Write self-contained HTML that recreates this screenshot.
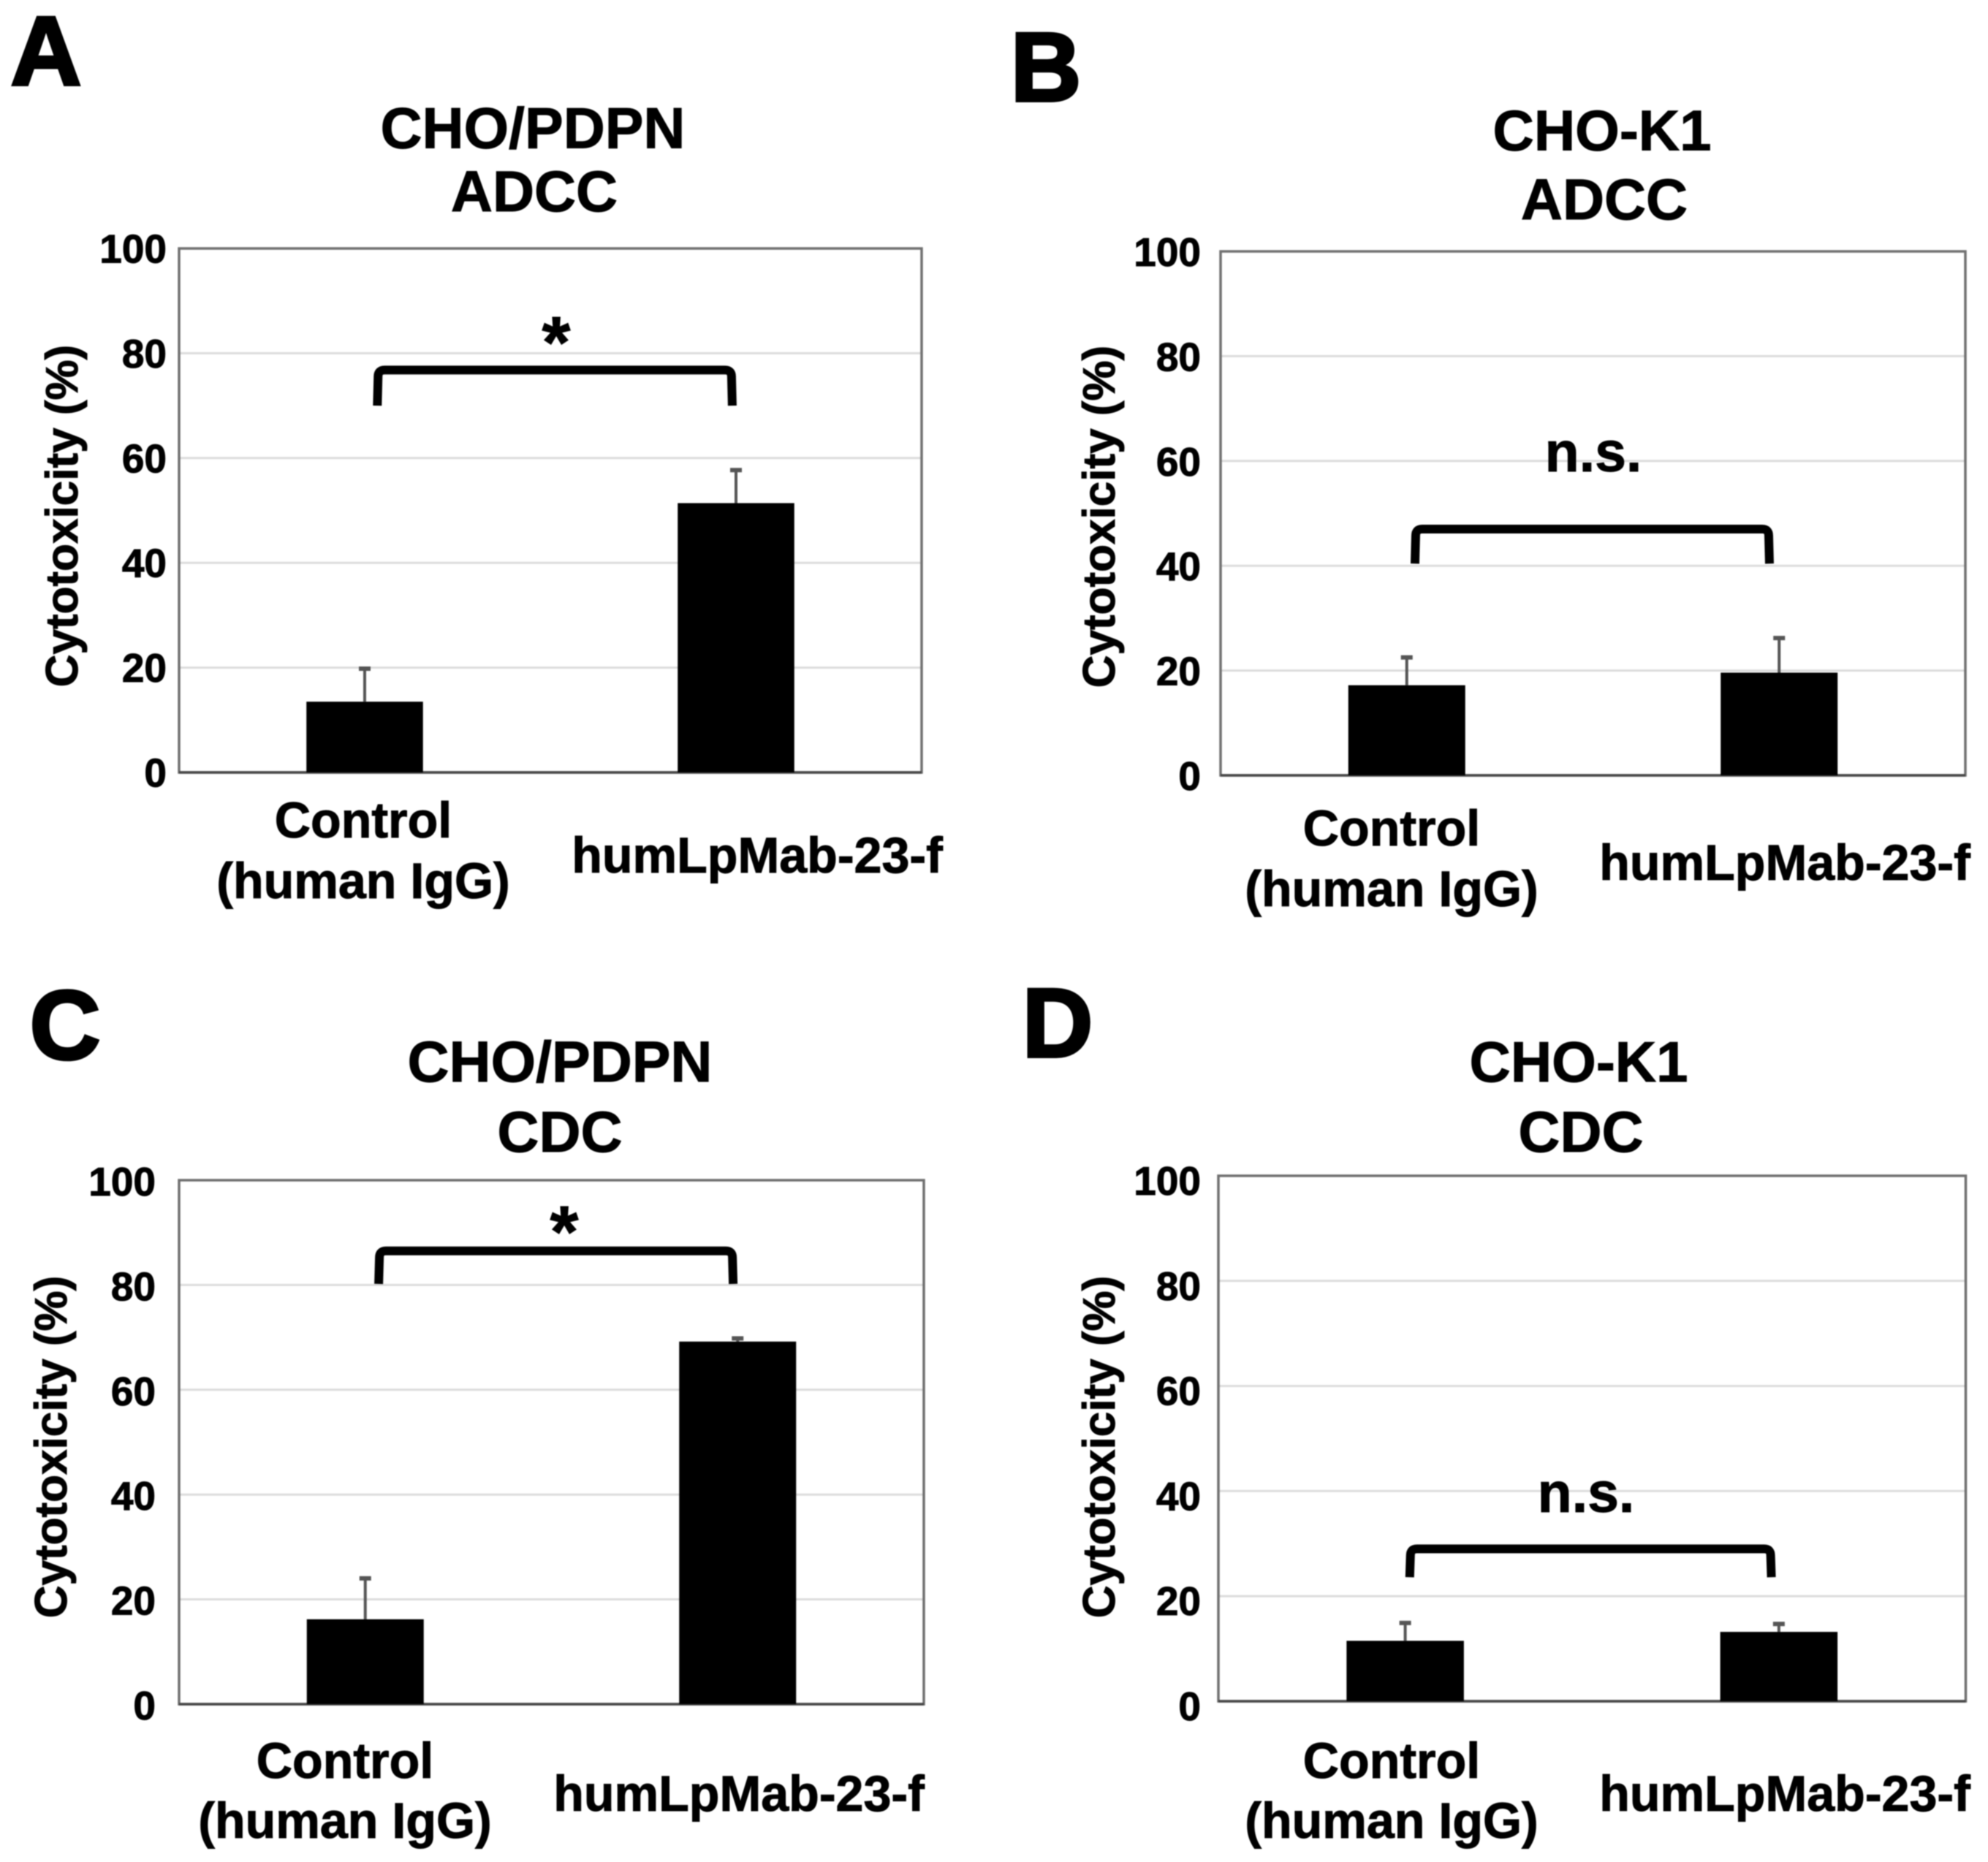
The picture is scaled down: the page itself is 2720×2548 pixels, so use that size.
<!DOCTYPE html>
<html lang="en">
<head>
<meta charset="utf-8">
<title>Cytotoxicity panels</title>
<style>
html,body{margin:0;padding:0;background:#fff;}
svg{display:block;filter:blur(0.7px);}
text{font-family:"Liberation Sans",Arial,sans-serif;font-weight:bold;fill:#000;stroke:#000;stroke-width:1px;}
</style>
</head>
<body>
<svg id="fig" width="2720" height="2548" viewBox="0 0 2720 2548" xmlns="http://www.w3.org/2000/svg">
  <rect width="2720" height="2548" fill="#fff"/>
  <g id="charts"></g>

  <text x="63" y="116" text-anchor="middle" font-size="134" style="stroke-width:4px">A</text>
  <text x="1431" y="138" text-anchor="middle" font-size="134" style="stroke-width:4px">B</text>
  <text x="89" y="1449" text-anchor="middle" font-size="134" style="stroke-width:4px">C</text>
  <text x="1447" y="1446" text-anchor="middle" font-size="134" style="stroke-width:4px">D</text>

  <text x="729" y="202.5" text-anchor="middle" font-size="79">CHO/PDPN</text>
  <text x="731" y="289" text-anchor="middle" font-size="79">ADCC</text>
  <text x="2192" y="205.5" text-anchor="middle" font-size="78">CHO-K1</text>
  <text x="2195" y="300" text-anchor="middle" font-size="79">ADCC</text>
  <text x="766" y="1480" text-anchor="middle" font-size="79">CHO/PDPN</text>
  <text x="766" y="1576" text-anchor="middle" font-size="79">CDC</text>
  <text x="2160" y="1480" text-anchor="middle" font-size="78">CHO-K1</text>
  <text x="2163" y="1576" text-anchor="middle" font-size="79">CDC</text>

  <text transform="translate(106,706) rotate(-90)" text-anchor="middle" font-size="62">Cytotoxicity (%)</text>
  <text transform="translate(1525,707) rotate(-90)" text-anchor="middle" font-size="62">Cytotoxicity (%)</text>
  <text transform="translate(91,1980) rotate(-90)" text-anchor="middle" font-size="62">Cytotoxicity (%)</text>
  <text transform="translate(1525,1980) rotate(-90)" text-anchor="middle" font-size="62">Cytotoxicity (%)</text>

  <text x="761" y="503" text-anchor="middle" font-size="100">*</text>
  <text x="2180" y="645" text-anchor="middle" font-size="77">n.s.</text>
  <text x="772" y="1720" text-anchor="middle" font-size="100">*</text>
  <text x="2170" y="2069" text-anchor="middle" font-size="77">n.s.</text>
</svg>

<script>
// ---- chart data (cytotoxicity %) ----
const categories = [["Control", "(human IgG)"], ["humLpMab-23-f"]];
const tickValues = [0, 20, 40, 60, 80, 100];
const adccPdpnMeans = [13.5, 51.4];
const adccPdpnErrors = [6.3, 6.3];
const adccK1Means = [17.2, 19.6];
const adccK1Errors = [5.3, 6.6];
const cdcPdpnMeans = [16.2, 69.2];
const cdcPdpnErrors = [7.8, 0.6];
const cdcK1Means = [11.5, 13.2];
const cdcK1Errors = [3.4, 1.5];
// comparison bracket levels, in % on the y axis: [top, bottom of legs]
const adccPdpnBracket = [76.8, 70.0];
const adccK1Bracket = [47.0, 40.4];
const cdcPdpnBracket = [86.5, 80.2];
const cdcK1Bracket = [29.0, 23.6];

// ---- layout ----
const panels = [
  {id:'a', means:adccPdpnMeans, errors:adccPdpnErrors, bracket:adccPdpnBracket,
   box:{l:245,r:1261,t:340,b:1057}, tickX:228, tickDy:19.5, brX:[0.268,0.744],
   labels:[{x:497,y:[1146,1229]},{x:1036,y:[1194]}]},
  {id:'b', means:adccK1Means, errors:adccK1Errors, bracket:adccK1Bracket,
   box:{l:1670,r:2689,t:344,b:1061}, tickX:1643, tickDy:20, brX:[0.262,0.736],
   labels:[{x:1904,y:[1157,1240]},{x:2442,y:[1204]}]},
  {id:'c', means:cdcPdpnMeans, errors:cdcPdpnErrors, bracket:cdcPdpnBracket,
   box:{l:245,r:1264,t:1615,b:2332}, tickX:213, tickDy:21, brX:[0.269,0.743],
   labels:[{x:472,y:[2433,2515]},{x:1011,y:[2478]}]},
  {id:'d', means:cdcK1Means, errors:cdcK1Errors, bracket:cdcK1Bracket,
   box:{l:1667,r:2689.5,t:1609,b:2328}, tickX:1643, tickDy:26, brX:[0.257,0.739],
   labels:[{x:1904,y:[2433,2515]},{x:2442,y:[2478]}]}
];

const svgNS = 'http://www.w3.org/2000/svg';
const charts = document.getElementById('charts');

function make(tag, attrs, parent) {
  const node = document.createElementNS(svgNS, tag);
  for (const k in attrs) node.setAttribute(k, attrs[k]);
  parent.appendChild(node);
  return node;
}

panels.forEach(function (p) {
  const box = p.box;
  const yScale = function (v) { return box.b - (v / 100) * (box.b - box.t); };
  const xFrac = function (f) { return box.l + f * (box.r - box.l); };
  const xBand = function (i) { return xFrac((i + 0.5) / categories.length); };
  const barWidth = (box.r - box.l) * 0.157;

  const g = make('g', {}, charts);
  
  

  tickValues.forEach(function (t) {
    if (t !== 0 && t !== 100) {
      const grid = make('line', {x1:box.l, x2:box.r, y1:yScale(t), y2:yScale(t), stroke:'#dcdcdc', 'stroke-width':3}, g);
      
      
    }
    const label = make('text', {x:p.tickX, y:yScale(t) + p.tickDy, 'text-anchor':'end', 'font-size':55}, g);
    label.textContent = String(t);
    
    
  });

  const frame = make('rect', {x:box.l, y:box.t, width:box.r - box.l, height:box.b - box.t, fill:'none', stroke:'#707070', 'stroke-width':3.5}, g);
  
  

  const xAxis = make('line', {x1:box.l, x2:box.r, y1:box.b, y2:box.b, stroke:'#484848', 'stroke-width':3.5}, g);
  
  

  p.means.forEach(function (m, i) {
    const cx = xBand(i);
    const top = yScale(m + p.errors[i]);

    const err = make('line', {x1:cx, x2:cx, y1:yScale(m), y2:top, stroke:'#555', 'stroke-width':4}, g);
    
    

    const cap = make('line', {x1:cx - 8, x2:cx + 8, y1:top, y2:top, stroke:'#555', 'stroke-width':6}, g);
    
    

    const bar = make('rect', {x:cx - barWidth / 2, y:yScale(m), width:barWidth, height:box.b - yScale(m), fill:'#000'}, g);
    
    
  });

  categories.forEach(function (lines, i) {
    lines.forEach(function (line, j) {
      const t = make('text', {x:p.labels[i].x, y:p.labels[i].y[j], 'text-anchor':'middle', 'font-size':68.2}, g);
      t.textContent = line;
      
      
    });
  });

  const bl = xFrac(p.brX[0]), br = xFrac(p.brX[1]);
  const bt = yScale(p.bracket[0]), bb = yScale(p.bracket[1]);
  const d = 'M' + (bl - 1) + ' ' + bb + ' L' + bl + ' ' + (bt + 9) + ' Q' + bl + ' ' + bt + ' ' + (bl + 9) + ' ' + bt +
            ' L' + (br - 9) + ' ' + bt + ' Q' + br + ' ' + bt + ' ' + br + ' ' + (bt + 9) + ' L' + (br + 1) + ' ' + bb;
  const bracket = make('path', {d:d, fill:'none', stroke:'#000', 'stroke-width':12}, g);
  
  
});
</script>
</body>
</html>
